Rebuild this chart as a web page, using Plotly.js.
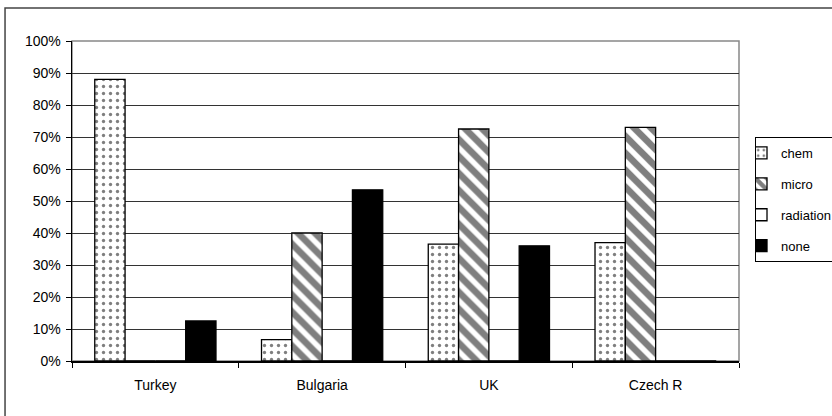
<!DOCTYPE html>
<html>
<head>
<meta charset="utf-8">
<script src="https://cdn.plot.ly/plotly-3.0.1.min.js"></script>
<style>html,body{margin:0;padding:0;background:#fff;}#chart{width:832px;height:416px;}</style>
</head>
<body>
<div id="chart"></div>
<script>
const categories = ["Turkey", "Bulgaria", "UK", "Czech R"];
const chem = [0.88, 0.067, 0.365, 0.37];
const micro = [0, 0.40, 0.725, 0.73];
const radiation = [0, 0, 0, 0];
const none = [0.125, 0.535, 0.36, 0];
const yTicks = [0, 0.1, 0.2, 0.3, 0.4, 0.5, 0.6, 0.7, 0.8, 0.9, 1.0];
const yTickLabels = ["0%", "10%", "20%", "30%", "40%", "50%", "60%", "70%", "80%", "90%", "100%"];

const FONT = "Liberation Sans, Arial, sans-serif";
const outline = {color: "#000", width: 1.3};

const traces = [
  {name: "chem", y: chem, legendgroup: "a",
   marker: {color: "#fff", line: outline,
            pattern: {shape: ".", size: 7, solidity: 0.18, fgcolor: "#000", bgcolor: "#fff", fillmode: "overlay"}}},
  {name: "micro", y: micro, legendgroup: "b",
   marker: {color: "#fff", line: outline,
            pattern: {shape: "\\", size: 12, solidity: 0.55, fgcolor: "#000", bgcolor: "#fff", fillmode: "overlay"}}},
  {name: "radiation", y: radiation, legendgroup: "c",
   marker: {color: "#fff", line: outline}},
  {name: "none", y: none, legendgroup: "d",
   marker: {color: "#000", line: outline}}
].map(t => Object.assign({type: "bar", x: categories, hoverinfo: "none"}, t));

const layout = {
  width: 832, height: 416,
  margin: {l: 72, r: 93, t: 41, b: 55, autoexpand: false},
  paper_bgcolor: "#fff", plot_bgcolor: "#fff",
  font: {family: FONT, size: 14, color: "#000"},
  barmode: "group",
  bargap: 0.273,
  bargroupgap: 0,
  showlegend: true,
  legend: {
    x: 1.024, xanchor: "left", y: 0.70, yanchor: "top",
    bordercolor: "#000", borderwidth: 1, bgcolor: "#fff",
    font: {family: FONT, size: 13, color: "#000"},
    traceorder: "grouped", tracegroupgap: 11,
    itemwidth: 30, indentation: -15
  },
  xaxis: {
    type: "category",
    showline: true, linecolor: "#000", linewidth: 1.5,
    ticks: "outside", tickson: "boundaries", ticklen: 5, tickcolor: "#000",
    showgrid: false, zeroline: false,
    ticklabelstandoff: 11,
    tickfont: {family: FONT, size: 14, color: "#000"},
    fixedrange: true
  },
  yaxis: {
    range: [0, 1],
    tickvals: yTicks, ticktext: yTickLabels,
    showline: true, linecolor: "#000", linewidth: 1.5,
    ticks: "outside", ticklen: 5, tickcolor: "#000",
    showgrid: true, gridcolor: "#333", gridwidth: 1,
    zeroline: false,
    ticklabelstandoff: 2,
    tickfont: {family: FONT, size: 14, color: "#000"},
    fixedrange: true
  },
  shapes: [
    {type: "rect", xref: "paper", yref: "paper", x0: 0, x1: 1, y0: 0, y1: 1,
     line: {color: "#888", width: 1.5}, layer: "below"},
    {type: "rect", xref: "paper", yref: "paper", x0: -0.1004, x1: 1.25, y0: -0.25, y1: 1.103,
     line: {color: "#444", width: 1.5}, layer: "below"}
  ]
};

Plotly.newPlot("chart", traces, layout, {displayModeBar: false, staticPlot: true});
</script>
</body>
</html>
